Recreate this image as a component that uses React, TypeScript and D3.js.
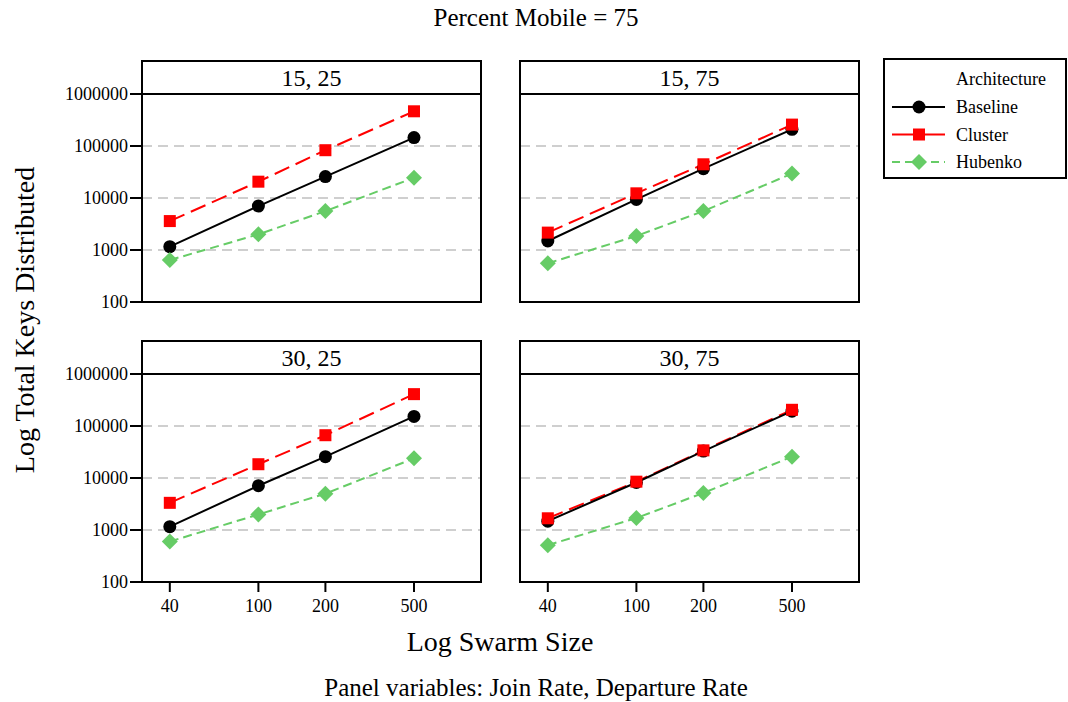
import React from 'react';
import * as d3 from 'd3';

// swarm sizes on the x axis
const swarmSizes = [40, 100, 200, 500];
const yTicks = [100, 1000, 10000, 100000, 1000000];
const gridTicks = [1000, 10000, 100000];

// panels: join rate, departure rate
const panelLabels = ['15, 25', '15, 75', '30, 25', '30, 75'];

// values per panel
const baselineKeys = [
  [1160, 7000, 25800, 145000],
  [1490, 9400, 36700, 209000],
  [1160, 7100, 25700, 153000],
  [1480, 8200, 33000, 193000],
];
const clusterKeys = [
  [3600, 20600, 83000, 465000],
  [2160, 12300, 44500, 258000],
  [3330, 18400, 66500, 410000],
  [1680, 8500, 34000, 205000],
];
const hubenkoKeys = [
  [640, 2000, 5600, 24500],
  [555, 1860, 5600, 29500],
  [600, 1990, 5000, 23900],
  [510, 1700, 5150, 25700],
];

const seriesNames = ['Baseline', 'Cluster', 'Hubenko'];

const font = '"Liberation Serif", "Times New Roman", serif';

const colLeft = [142, 520];
const panelW = 339;
const rowTop = [61, 341];
const headerH = 33;
const plotH = 208;

const series = [
  { name: 'Baseline', data: baselineKeys, color: '#000000', dash: null, marker: 'circle' },
  { name: 'Cluster', data: clusterKeys, color: '#ff0000', dash: '16,7', marker: 'square' },
  { name: 'Hubenko', data: hubenkoKeys, color: '#66cc66', dash: '9,5', marker: 'diamond' },
];

function Marker({ kind, x, y, color }: { kind: string; x: number; y: number; color: string }) {
  if (kind === 'circle') return <circle cx={x} cy={y} r={6.5} fill={color} />;
  if (kind === 'square') return <rect x={x - 6} y={y - 6} width={12} height={12} fill={color} />;
  const s = 8;
  return <path d={`M${x},${y - s}L${x + s},${y}L${x},${y + s}L${x - s},${y}Z`} fill={color} />;
}

function Panel({ idx }: { idx: number }) {
  const row = Math.floor(idx / 2);
  const col = idx % 2;
  const left = colLeft[col];
  const top = rowTop[row];
  const plotTop = top + headerH;
  const x = d3.scaleLog().domain([30, 1000]).range([left, left + panelW]);
  const y = d3.scaleLog().domain([100, 1000000]).range([plotTop + plotH, plotTop]);
  const line = d3.line<number>()
    .x((d, i) => x(swarmSizes[i]))
    .y((d) => y(d));

  return (
    <g>
      {gridTicks.map((t) => (
        <line key={t} x1={left} x2={left + panelW} y1={y(t)} y2={y(t)}
          stroke="#c0c0c0" strokeWidth={1.5} strokeDasharray="10,6" />
      ))}
      {/* draw order: hubenko, cluster, baseline */}
      {[2, 1, 0].map((si) => {
        const s = series[si];
        return (
          <g key={s.name}>
            <path d={line(s.data[idx]) || ''} fill="none" stroke={s.color} strokeWidth={2}
              strokeDasharray={s.dash || undefined} />
          </g>
        );
      })}
      {[0, 1, 2].map((si) => {
        const s = series[si];
        return (
          <g key={s.name + 'm'}>
            {s.data[idx].map((v, i) => (
              <Marker key={i} kind={s.marker} x={x(swarmSizes[i])} y={y(v)} color={s.color} />
            ))}
          </g>
        );
      })}
      <rect x={left} y={top} width={panelW} height={headerH} fill="none" stroke="#000" strokeWidth={2} />
      <text x={left + panelW / 2} y={top + 25} textAnchor="middle" fontSize={24} fontFamily={font}>
        {panelLabels[idx]}
      </text>
      <rect x={left} y={plotTop} width={panelW} height={plotH} fill="none" stroke="#000" strokeWidth={2} />
      {col === 0 && yTicks.map((t) => (
        <g key={t}>
          <line x1={left - 12} x2={left} y1={y(t)} y2={y(t)} stroke="#000" strokeWidth={2} />
          <text x={left - 14} y={y(t)} dy="0.35em" textAnchor="end" fontSize={18} fontFamily={font}>
            {t}
          </text>
        </g>
      ))}
      {row === 1 && swarmSizes.map((t) => (
        <g key={t}>
          <line x1={x(t)} x2={x(t)} y1={plotTop + plotH} y2={plotTop + plotH + 10} stroke="#000" strokeWidth={2} />
          <text x={x(t)} y={plotTop + plotH + 30} textAnchor="middle" fontSize={18} fontFamily={font}>
            {t}
          </text>
        </g>
      ))}
    </g>
  );
}

function Legend() {
  const lx = 884, ly = 59;
  return (
    <g>
      <rect x={lx} y={ly} width={182} height={119} fill="#fff" stroke="#000" strokeWidth={2} />
      <text x={956} y={85} fontSize={18} fontFamily={font}>Architecture</text>
      {series.map((s, i) => {
        const cy = 107 + i * 27.5;
        return (
          <g key={s.name}>
            <line x1={892} x2={945} y1={cy} y2={cy} stroke={s.color} strokeWidth={2}
              strokeDasharray={s.dash ? (i === 1 ? '30,0' : '8,5') : undefined} />
            <Marker kind={s.marker} x={919} y={cy} color={s.color} />
            <text x={956} y={cy} dy="0.35em" fontSize={18} fontFamily={font}>{seriesNames[i]}</text>
          </g>
        );
      })}
    </g>
  );
}

export default function App() {
  return (
    <svg width={1068} height={702} style={{ position: 'absolute', left: 0, top: 0, background: '#fff' }}>
      <rect width={1068} height={702} fill="#fff" />
      <text x={536} y={26} textAnchor="middle" fontSize={25} fontFamily={font}>Percent Mobile = 75</text>
      {panelLabels.map((p, i) => <Panel key={p} idx={i} />)}
      <Legend />
      <text x={500} y={651} textAnchor="middle" fontSize={28} fontFamily={font}>Log Swarm Size</text>
      <text transform="translate(34,320) rotate(-90)" textAnchor="middle" fontSize={28} fontFamily={font}>
        Log Total Keys Distributed
      </text>
      <text x={536} y={696} textAnchor="middle" fontSize={25} fontFamily={font}>
        Panel variables: Join Rate, Departure Rate
      </text>
    </svg>
  );
}
